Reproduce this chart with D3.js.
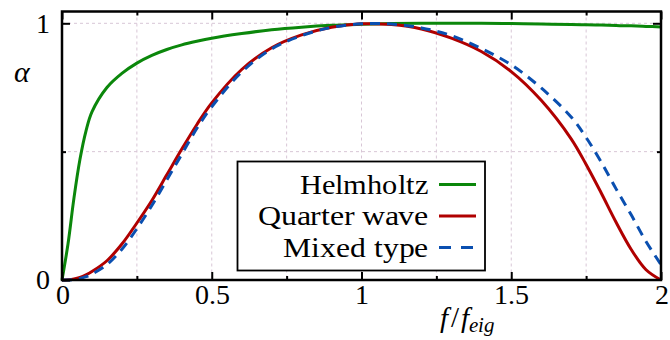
<!DOCTYPE html>
<html>
<head>
<meta charset="utf-8">
<script src="https://cdn.jsdelivr.net/npm/d3@7"></script>
<style>
  @font-face { font-family: "ChartSerif"; src: local("Liberation Serif"), local("LiberationSerif"), local("Tinos"); font-style: normal; }
  @font-face { font-family: "ChartSerif"; src: local("Liberation Serif Italic"), local("LiberationSerif-Italic"), local("Tinos Italic"); font-style: italic; }
</style>
</head>
<body style="margin:0">
<svg id="chart" width="670" height="340"></svg>
<script>
// normalised frequency f/f_eig
var freq = [0, 0.02, 0.04, 0.06, 0.08, 0.1, 0.15, 0.2, 0.25, 0.3, 0.35, 0.4, 0.45, 0.5,
            0.6, 0.7, 0.8, 0.9, 1.0, 1.1, 1.2, 1.3, 1.4, 1.5, 1.6, 1.7, 1.75, 1.8, 1.85,
            1.9, 1.95, 2.0];

// absorption coefficient alpha
var helmholtz = [0, 0.14, 0.32, 0.47, 0.58, 0.655, 0.75, 0.805, 0.845, 0.875, 0.898, 0.916,
                 0.93, 0.942, 0.96, 0.975, 0.985, 0.992, 0.996, 0.999, 1.0, 1.0, 1.0,
                 0.999, 0.997, 0.995, 0.994, 0.993, 0.991, 0.99, 0.988, 0.986];
var quarterWave = [0, 0.001, 0.004, 0.01, 0.02, 0.033, 0.075, 0.14, 0.222, 0.31, 0.41,
                   0.51, 0.605, 0.69, 0.82, 0.905, 0.955, 0.985, 0.998, 0.995, 0.978,
                   0.942, 0.89, 0.812, 0.70, 0.55, 0.45, 0.34, 0.225, 0.12, 0.04, 0];
var mixedType = [0, 0.0, 0.002, 0.006, 0.013, 0.023, 0.06, 0.12, 0.2, 0.29, 0.39,
                 0.49, 0.59, 0.675, 0.81, 0.9, 0.952, 0.984, 0.998, 0.997, 0.982,
                 0.952, 0.902, 0.838, 0.748, 0.635, 0.555, 0.46, 0.355, 0.255, 0.15, 0.06];

var seriesNames = ["Helmholtz", "Quarter wave", "Mixed type"];
var seriesColors = ["#0b870b", "#b00000", "#0a4fb0"];
var seriesDash = [null, null, "10,7"];
var seriesValues = [helmholtz, quarterWave, mixedType];

var xMajor = [0, 0.5, 1, 1.5, 2];
var xMinor = [0.25, 0.75, 1.25, 1.75];
var xGrid = [0.25, 0.5, 0.75, 1, 1.25, 1.5, 1.75];
var yLabels = [0, 1];
var yGrid = [0.5, 1];

var fontStack = "ChartSerif, 'Liberation Serif', Tinos, 'Times New Roman', FreeSerif";

var svg = d3.select("#chart");
var left = 62, right = 661, bottom = 280, topFrame = 11.5;

var x = d3.scaleLinear().domain([0, 2]).range([left, right]);
var y = d3.scaleLinear().domain([0, 1]).range([bottom, 23.3]);

function serifText(sel, size) {
  sel.attr("font-family", fontStack)
     .style("font-family", fontStack)
     .style("font-size", size + "px")
     .attr("fill", "#000");
}

function styleAxis(g) {
  g.attr("font-family", null).attr("font-size", null);
  g.select(".domain").remove();
  g.selectAll("line").attr("stroke", "#000").attr("stroke-width", 2);
}

// grid
var grid = svg.append("g")
    .attr("stroke", "#d8c6d6").attr("stroke-width", 1).attr("stroke-dasharray", "3,3");
grid.selectAll(".gx").data(xGrid).enter().append("line")
    .attr("x1", function(d) { return x(d); })
    .attr("x2", function(d) { return x(d); })
    .attr("y1", topFrame).attr("y2", bottom);
grid.selectAll(".gy").data(yGrid).enter().append("line")
    .attr("x1", left).attr("x2", right)
    .attr("y1", function(d) { return y(d); })
    .attr("y2", function(d) { return y(d); });

// curves
var line = d3.line()
    .x(function(d) { return x(d[0]); })
    .y(function(d) { return y(d[1]); })
    .curve(d3.curveCatmullRom.alpha(0.5));

seriesValues.forEach(function(vals, i) {
  svg.append("path")
      .datum(freq.map(function(f, j) { return [f, vals[j]]; }))
      .attr("fill", "none")
      .attr("stroke", seriesColors[i])
      .attr("stroke-width", 3)
      .attr("stroke-dasharray", seriesDash[i])
      .attr("d", line);
});

// axes (ticks point inward)
svg.append("g")
    .attr("transform", "translate(0," + bottom + ")")
    .call(d3.axisBottom(x).tickValues(xMajor).tickSize(-8).tickPadding(4)
      .tickFormat(d3.format("")))
    .call(styleAxis)
  .selectAll("text").call(serifText, 28);
svg.append("g")
    .attr("transform", "translate(0," + bottom + ")")
    .call(d3.axisBottom(x).tickValues(xMinor).tickSize(-4).tickFormat(""))
    .call(styleAxis);
svg.append("g")
    .attr("transform", "translate(0," + topFrame + ")")
    .call(d3.axisTop(x).tickValues(xMajor).tickSize(-8).tickFormat(""))
    .call(styleAxis);
svg.append("g")
    .attr("transform", "translate(0," + topFrame + ")")
    .call(d3.axisTop(x).tickValues(xMinor).tickSize(-4).tickFormat(""))
    .call(styleAxis);

svg.append("g")
    .attr("transform", "translate(" + left + ",0)")
    .call(d3.axisLeft(y).tickValues(yLabels).tickSize(-8).tickPadding(12)
      .tickFormat(d3.format("")))
    .call(styleAxis)
  .selectAll("text").call(serifText, 28);
svg.append("g")
    .attr("transform", "translate(" + left + ",0)")
    .call(d3.axisLeft(y).tickValues([0.5]).tickSize(-4).tickFormat(""))
    .call(styleAxis);
svg.append("g")
    .attr("transform", "translate(" + right + ",0)")
    .call(d3.axisRight(y).tickValues([1]).tickSize(-8).tickFormat(""))
    .call(styleAxis);
svg.append("g")
    .attr("transform", "translate(" + right + ",0)")
    .call(d3.axisRight(y).tickValues([0.5]).tickSize(-4).tickFormat(""))
    .call(styleAxis);

// frame
svg.append("rect")
    .attr("x", left).attr("y", topFrame)
    .attr("width", right - left).attr("height", bottom - topFrame)
    .attr("fill", "none").attr("stroke", "#000").attr("stroke-width", 2.5);

// axis titles
svg.append("text")
    .attr("x", 22).attr("y", 82)
    .attr("text-anchor", "middle")
    .call(serifText, 30)
    .style("font-style", "italic")
    .text("α");

var xt = svg.append("text")
    .attr("x", 440).attr("y", 327)
    .call(serifText, 29)
    .style("font-style", "italic");
xt.append("tspan").text("f");
xt.append("tspan").attr("dx", 3).style("font-style", "normal").text("/");
xt.append("tspan").attr("dx", 2).text("f");
xt.append("tspan").attr("dy", 5).style("font-size", "21px").text("eig");

// legend
var legend = svg.append("g");
legend.append("rect")
    .attr("x", 237.5).attr("y", 161.5)
    .attr("width", 247.5).attr("height", 109)
    .attr("fill", "#fff").attr("stroke", "#000").attr("stroke-width", 1.8);

var textWidths = [128, 170, 145];
var row = legend.selectAll(".row").data(seriesNames).enter().append("g")
    .attr("transform", function(d, i) { return "translate(0," + (184.5 + i * 31.5) + ")"; });
row.append("text")
    .attr("x", 428).attr("y", 9)
    .attr("text-anchor", "end")
    .attr("textLength", function(d, i) { return textWidths[i]; })
    .attr("lengthAdjust", "spacingAndGlyphs")
    .call(serifText, 28)
    .text(function(d) { return d; });
row.append("line")
    .attr("x1", 439).attr("x2", 476)
    .attr("stroke", function(d, i) { return seriesColors[i]; })
    .attr("stroke-width", 3)
    .attr("stroke-dasharray", function(d, i) { return seriesDash[i] ? "12,10" : null; });
</script>
</body>
</html>
